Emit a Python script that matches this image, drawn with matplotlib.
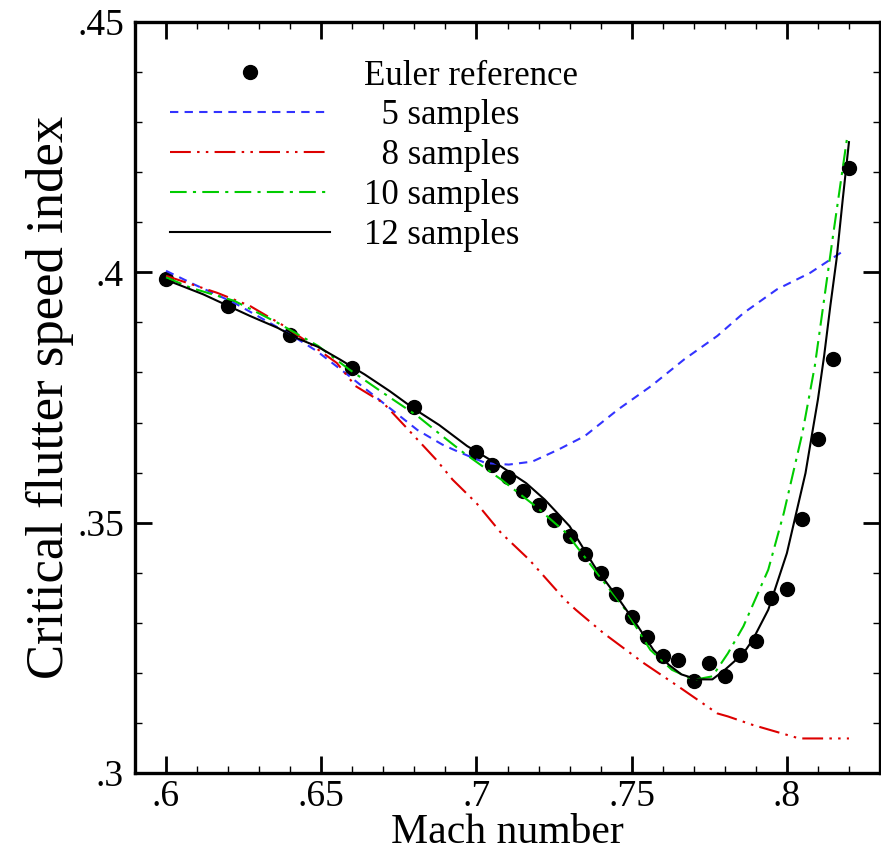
import matplotlib
matplotlib.use("Agg")
import matplotlib.pyplot as plt
from matplotlib.ticker import MultipleLocator, FuncFormatter

# Euler reference points
euler_mach = [0.60, 0.62, 0.64, 0.66, 0.68, 0.700, 0.705, 0.710, 0.715, 0.720,
              0.725, 0.730, 0.735, 0.740, 0.745, 0.750, 0.755, 0.760, 0.765,
              0.770, 0.775, 0.780, 0.785, 0.790, 0.795, 0.800, 0.805, 0.810,
              0.815, 0.820]
euler_speed = [0.3986, 0.3933, 0.3875, 0.3809, 0.3731, 0.3641, 0.3616, 0.3591,
               0.3564, 0.3535, 0.3506, 0.3473, 0.3438, 0.3399, 0.3357, 0.3312,
               0.3271, 0.3233, 0.3225, 0.3183, 0.3219, 0.3194, 0.3236, 0.3263,
               0.3349, 0.3367, 0.3507, 0.3667, 0.3826, 0.4209]

# 5 samples
s5_mach = [0.600, 0.609, 0.622, 0.640, 0.6485, 0.659, 0.670, 0.681, 0.689, 0.694,
           0.703, 0.7104, 0.718, 0.7264, 0.7349, 0.7456, 0.7563, 0.7669, 0.7776,
           0.7861, 0.7968, 0.8075, 0.8183]
s5_speed = [0.4003, 0.3976, 0.3939, 0.3876, 0.3843, 0.3793, 0.3739, 0.3685,
            0.3656, 0.3642, 0.3619, 0.3616, 0.3622, 0.3646, 0.3673, 0.3726,
            0.3773, 0.3826, 0.3873, 0.3919, 0.3966, 0.3999, 0.4043]

# 8 samples
s8_mach = [0.600, 0.6165, 0.627, 0.638, 0.646, 0.655, 0.661, 0.670, 0.678, 0.687,
           0.6923, 0.700, 0.708, 0.717, 0.7285, 0.732, 0.741, 0.754, 0.765,
           0.7776, 0.781, 0.789, 0.794, 0.804, 0.820]
s8_speed = [0.3993, 0.3959, 0.3933, 0.3893, 0.3859, 0.3819, 0.3773, 0.3739,
            0.3686, 0.3626, 0.3586, 0.3539, 0.3479, 0.3426, 0.3346, 0.3326,
            0.3279, 0.3219, 0.3173, 0.3119, 0.3113, 0.3096, 0.3087, 0.3069,
            0.3069]

# 10 samples
s10_mach = [0.600, 0.608, 0.622, 0.636, 0.649, 0.659, 0.670, 0.681, 0.689, 0.696,
            0.708, 0.719, 0.729, 0.738, 0.748, 0.756, 0.763, 0.770, 0.776, 0.781,
            0.786, 0.794, 0.799, 0.805, 0.809, 0.812, 0.815, 0.8195]
s10_speed = [0.3990, 0.3969, 0.3943, 0.3899, 0.3853, 0.3806, 0.3759, 0.3713,
             0.3673, 0.3639, 0.3586, 0.3533, 0.3479, 0.3406, 0.3326, 0.3246,
             0.3206, 0.3186, 0.3193, 0.3239, 0.3293, 0.3406, 0.3519, 0.3679,
             0.3813, 0.3946, 0.4079, 0.4273]

# 12 samples
s12_mach = [0.600, 0.605, 0.612, 0.620, 0.627, 0.636, 0.642, 0.649, 0.656, 0.664,
            0.672, 0.680, 0.688, 0.697, 0.707, 0.716, 0.722, 0.730, 0.738, 0.746,
            0.752, 0.757, 0.762, 0.766, 0.771, 0.776, 0.780, 0.786, 0.789, 0.794,
            0.800, 0.803, 0.806, 0.808, 0.810, 0.812, 0.814, 0.816, 0.818, 0.820]
s12_speed = [0.3985, 0.3973, 0.3956, 0.3933, 0.3913, 0.3889, 0.3869, 0.3851,
             0.3826, 0.3796, 0.3763, 0.3727, 0.3695, 0.3653, 0.3616, 0.3579,
             0.3546, 0.3493, 0.3413, 0.3346, 0.3293, 0.3246, 0.3216, 0.3197,
             0.3187, 0.3187, 0.3206, 0.3239, 0.3266, 0.3326, 0.3439, 0.3519,
             0.3599, 0.3673, 0.3746, 0.3833, 0.3933, 0.4026, 0.4146, 0.4260]

plt.rcParams["font.family"] = "Liberation Serif"

fig = plt.figure(figsize=(8.81, 8.52), dpi=100)
ax = fig.add_axes([135 / 881, 79 / 852, 745 / 881, 751 / 852])

ax.plot(euler_mach, euler_speed, "o", color="black", markersize=10, label="Euler reference")
ax.plot(s5_mach, s5_speed, color="#3333ff", lw=1.5, dashes=(4, 3), label="  5 samples")
ax.plot(s8_mach, s8_speed, color="#dd0000", lw=1.5, dashes=(10, 3, 1.2, 3, 1.2, 3), label="  8 samples")
ax.plot(s10_mach, s10_speed, color="#00cc00", lw=1.5, dashes=(8, 3, 1.5, 3), label="10 samples")
ax.plot(s12_mach, s12_speed, color="black", lw=1.5, label="12 samples")

ax.set_xlim(0.59, 0.83)
ax.set_ylim(0.3, 0.45)
ax.xaxis.set_major_locator(MultipleLocator(0.05))
ax.xaxis.set_minor_locator(MultipleLocator(0.01))
ax.yaxis.set_major_locator(MultipleLocator(0.05))
ax.yaxis.set_minor_locator(MultipleLocator(0.01))

def strip_zero(v, pos):
    return ("%g" % round(v, 3)).lstrip("0")

ax.xaxis.set_major_formatter(FuncFormatter(strip_zero))
ax.yaxis.set_major_formatter(FuncFormatter(strip_zero))

ax.tick_params(which="both", direction="in", top=True, right=True, labelsize=27)
ax.tick_params(which="major", length=12, width=2)
ax.tick_params(which="minor", length=5, width=1)
ax.tick_params(axis="x", pad=5)
ax.tick_params(axis="y", pad=8)
for sp in ax.spines.values():
    sp.set_linewidth(2.4)

ax.set_xlabel("Mach number", fontsize=30, labelpad=-1)
ax.set_ylabel("Critical flutter speed index", fontsize=38, labelpad=2)

ax.legend(loc="upper left", bbox_to_anchor=(0.047, 0.95), frameon=False,
          fontsize=25, numpoints=1, handlelength=4.6, handletextpad=1.0,
          labelspacing=0.2, borderpad=0, borderaxespad=0)

fig.savefig("out.png", dpi=100)
